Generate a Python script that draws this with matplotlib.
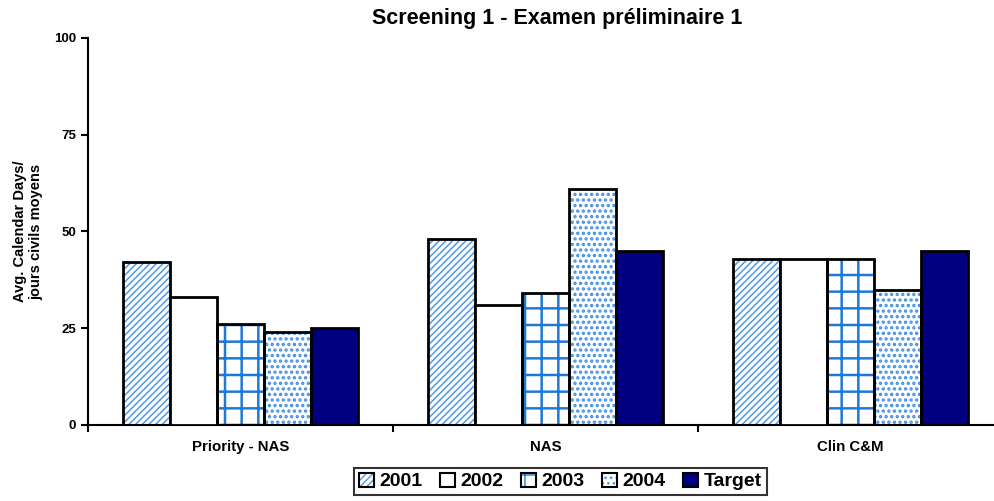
import numpy as np
import matplotlib
matplotlib.use("Agg")
import matplotlib.pyplot as plt
from matplotlib.patches import Patch
from matplotlib.legend_handler import HandlerTuple

plt.rcParams['font.family'] = ['Liberation Sans', 'DejaVu Sans']
plt.rcParams['font.weight'] = 'bold'

# data
categories = ["Priority - NAS", "NAS", "Clin C&M"]
series = ["2001", "2002", "2003", "2004", "Target"]
values = {
    "2001": [42, 48, 43],
    "2002": [33, 31, 43],
    "2003": [26, 34, 43],
    "2004": [24, 61, 35],
    "Target": [25, 45, 45],
}

# bar styling: face colour, hatch, hatch colour, hatch line width
styles = {
    "2001": dict(face='white', hatch='/////', hcol='#4f98e6', hlw=1.1),
    "2002": dict(face='white', hatch=None, hcol=None, hlw=1.0),
    "2003": dict(face='white', hatch='+', hcol='#1f78d8', hlw=1.8),
    "2004": dict(face='white', hatch='...', hcol='#3f8ee4', hlw=1.6),
    "Target": dict(face='#000080', hatch=None, hcol=None, hlw=1.0),
}

fig = plt.figure(figsize=(9.94, 5.01), dpi=100)
ax = fig.add_axes([0.0885, 0.1517, 0.9205, 0.7725])

x = np.arange(len(categories))
bw = 0.154
handles = []
for i, s in enumerate(series):
    pos = x - 2 * bw + i * bw
    st = styles[s]
    if st['hatch']:
        with plt.rc_context({'hatch.linewidth': st['hlw']}):
            ax.bar(pos, values[s], bw, color=st['face'], edgecolor=st['hcol'],
                   hatch=st['hatch'], linewidth=0, zorder=2)
            h1 = Patch(facecolor=st['face'], edgecolor=st['hcol'],
                       hatch=st['hatch'], linewidth=0)
        ax.bar(pos, values[s], bw, fill=False, edgecolor='black', linewidth=2, zorder=3)
        h2 = Patch(fill=False, edgecolor='black', linewidth=1.5)
        handles.append((h1, h2))
    else:
        ax.bar(pos, values[s], bw, color=st['face'], edgecolor='black', linewidth=2, zorder=3)
        handles.append(Patch(facecolor=st['face'], edgecolor='black', linewidth=1.5))

ax.set_xlim(-0.5, 2.5)
ax.set_ylim(0, 100)
ax.set_yticks([0, 25, 50, 75, 100])
ax.set_xticks(x)
ax.set_xticklabels(categories, fontsize=10.8, fontweight='bold')
ax.tick_params(axis='x', length=0, pad=11)
ax.set_xticks([-0.5, 0.5, 1.5, 2.5], minor=True)
ax.tick_params(axis='x', which='minor', length=5, width=1.5, direction='out')
ax.tick_params(axis='y', length=5, width=1.5, direction='out', labelsize=9.5)
for lab in ax.get_yticklabels():
    lab.set_fontweight('bold')
ax.spines['top'].set_visible(False)
ax.spines['right'].set_visible(False)
ax.spines['left'].set_linewidth(1.5)
ax.spines['bottom'].set_linewidth(1.5)

ax.set_ylabel("Avg. Calendar Days/\njours civils moyens", fontsize=10.5,
              fontweight='bold', labelpad=8)
fig.suptitle("Screening 1 - Examen préliminaire 1", fontsize=15.5,
             fontweight='bold', x=0.561, y=0.985)

leg = fig.legend(handles=handles, labels=series, loc='center',
                 bbox_to_anchor=(0.564, 0.039),
                 handler_map={tuple: HandlerTuple(ndivide=1, pad=0)},
                 ncol=5, frameon=True, fancybox=False, edgecolor='black',
                 prop={'size': 14, 'weight': 'bold'}, handlelength=0.75,
                 handleheight=0.75, handletextpad=0.3, columnspacing=0.9,
                 borderpad=0.25)
leg.get_frame().set_linewidth(1.5)

fig.savefig("out.png", dpi=100)
